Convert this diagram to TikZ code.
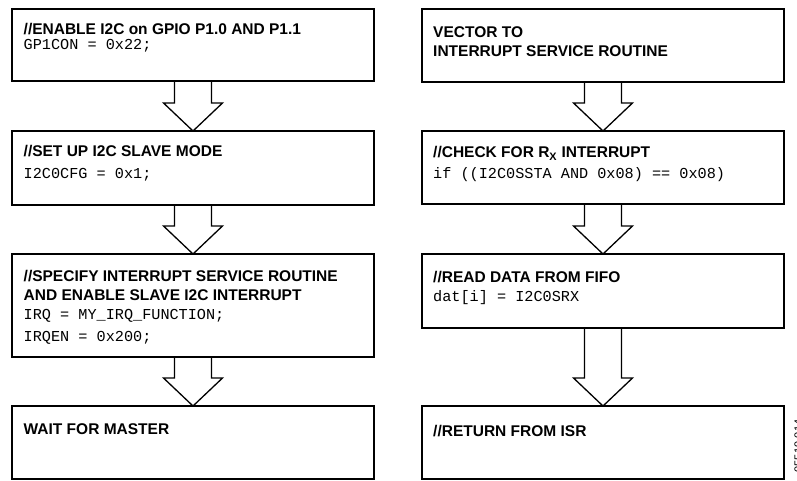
\documentclass[tikz,border=0pt]{standalone}
\usepackage{fontspec}
\setmainfont{Liberation Sans}
\setmonofont{Liberation Mono}
\usetikzlibrary{calc}

\tikzset{
  stepbox/.style={draw, line width=1.6pt, anchor=north west, inner sep=0pt, outer sep=0pt, minimum width=362pt},
  steptext/.style={anchor=base west, inner sep=0pt, font=\fontsize{15.5}{19}\selectfont},
  flowline/.style={line width=1.3pt, line join=miter}
}
\newcommand\hd[1]{\textbf{#1}}
\newcommand\cd[1]{{\fontsize{15.2}{19}\ttfamily #1}}
% hollow block arrow from box #1 down to box #2
\newcommand\blockarrow[2]{%
  \draw[flowline] ($(#1.south)+(-18.5,0)$) -- ($(#2.north)+(-18.5,-28)$)
    -- ($(#2.north)+(-29.5,-28)$) -- (#2.north) -- ($(#2.north)+(29.5,-28)$)
    -- ($(#2.north)+(18.5,-28)$) -- ($(#1.south)+(18.5,0)$);}

\begin{document}
\begin{tikzpicture}[x=1pt,y=-1pt]
\useasboundingbox (0,0) rectangle (797,481);
% left column
\node[stepbox, minimum height=72pt] (enable) at (12,9) {};
\node[stepbox, minimum height=74pt] (slave) at (12,131) {};
\node[stepbox, minimum height=103pt] (irq) at (12,254) {};
\node[stepbox, minimum height=73pt] (wait) at (12,406) {};
% right column
\node[stepbox, minimum height=73pt] (vector) at (422,9) {};
\node[stepbox, minimum height=73pt] (check) at (422,131) {};
\node[stepbox, minimum height=74pt] (read) at (422,254) {};
\node[stepbox, minimum height=73pt] (ret) at (422,406) {};

\node[steptext] (enabletext) at ($(enable.north west)+(11.5,25.5)$)
  {\parbox[t]{345pt}{\hd{//ENABLE I2C on GPIO P1.0 AND P1.1}\\[-4pt]\cd{GP1CON = 0x22;}}};
\node[steptext] (slavetext) at ($(slave.north west)+(11.5,26)$)
  {\parbox[t]{345pt}{\hd{//SET UP I2C SLAVE MODE}\\[3pt]\cd{I2C0CFG = 0x1;}}};
\node[steptext] (irqtext) at ($(irq.north west)+(11.5,27)$)
  {\parbox[t]{345pt}{\hd{//SPECIFY INTERRUPT SERVICE ROUTINE}\\\hd{AND ENABLE SLAVE I2C INTERRUPT}\\\cd{IRQ = MY\_IRQ\_FUNCTION;}\\[3pt]\cd{IRQEN = 0x200;}}};
\node[steptext] (waittext) at ($(wait.north west)+(11.5,28.5)$)
  {\hd{WAIT FOR MASTER}};
\node[steptext] (vectortext) at ($(vector.north west)+(11,28.5)$)
  {\parbox[t]{345pt}{\hd{VECTOR TO}\\\hd{INTERRUPT SERVICE ROUTINE}}};
\node[steptext] (checktext) at ($(check.north west)+(11,26.5)$)
  {\parbox[t]{345pt}{\hd{//CHECK FOR R\textsubscript{X} INTERRUPT}\\[2pt]\cd{if ((I2C0SSTA AND 0x08) == 0x08)}}};
\node[steptext] (readtext) at ($(read.north west)+(11,28)$)
  {\parbox[t]{345pt}{\hd{//READ DATA FROM FIFO}\\\cd{dat[i] = I2C0SRX}}};
\node[steptext] (rettext) at ($(ret.north west)+(11,30)$)
  {\hd{//RETURN FROM ISR}};

\blockarrow{enable}{slave}
\blockarrow{slave}{irq}
\blockarrow{irq}{wait}
\blockarrow{vector}{check}
\blockarrow{check}{read}
\blockarrow{read}{ret}

\node[rotate=90, anchor=base, inner sep=0pt, font=\fontsize{11}{11}\selectfont] (fignum) at (802,446) {05519-014};
\end{tikzpicture}
\end{document}
